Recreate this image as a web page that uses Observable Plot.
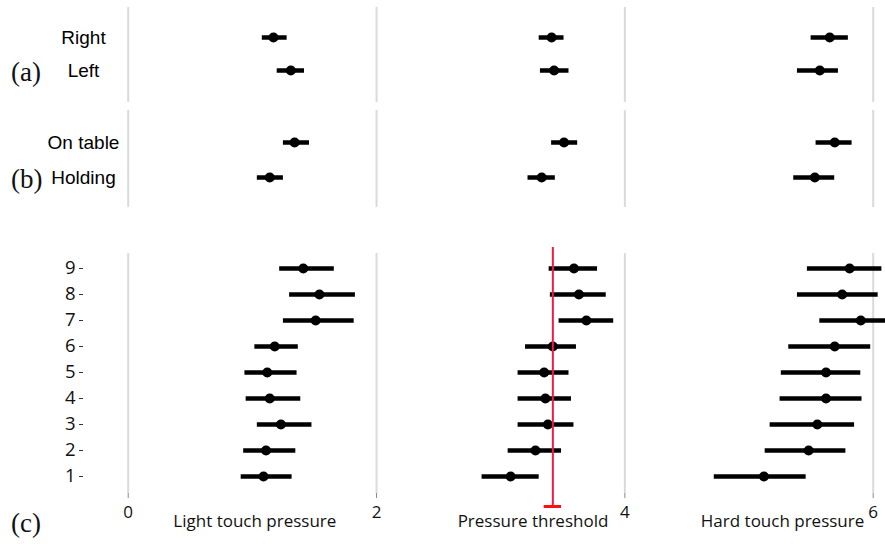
<!DOCTYPE html>
<html>
<head>
<meta charset="utf-8">
<script src="https://cdn.jsdelivr.net/npm/d3@7"></script>
<script src="https://cdn.jsdelivr.net/npm/@observablehq/plot@0.6"></script>
<style>
  html, body { margin: 0; padding: 0; background: white; }
  #wrap { position: relative; width: 885px; height: 544px; overflow: hidden; background: white; }
  .panel { position: absolute; left: 0; }
  .plabel { position: absolute; left: 11px; font-family: "Liberation Serif", "DejaVu Serif", serif; font-size: 27px; line-height: 1; color: #111; }
</style>
</head>
<body>
<div id="wrap"></div>
<script>
// ---- Data: each entry is [lower, mean, upper] ----
const measures = ["Light touch pressure", "Pressure threshold", "Hard touch pressure"];

const sides = ["Right", "Left"];
const sideLight     = [[1.08, 1.17, 1.28], [1.20, 1.31, 1.42]];
const sideThreshold = [[3.31, 3.41, 3.51], [3.32, 3.43, 3.55]];
const sideHard      = [[5.50, 5.65, 5.80], [5.39, 5.57, 5.72]];

const grips = ["On table", "Holding"];
const gripLight     = [[1.25, 1.34, 1.46], [1.04, 1.14, 1.25]];
const gripThreshold = [[3.41, 3.51, 3.62], [3.22, 3.33, 3.44]];
const gripHard      = [[5.54, 5.69, 5.83], [5.36, 5.53, 5.69]];

const subjects = ["9", "8", "7", "6", "5", "4", "3", "2", "1"];
const subjectLight = [
  [1.22, 1.41, 1.66], [1.30, 1.54, 1.83], [1.25, 1.51, 1.82],
  [1.02, 1.18, 1.37], [0.94, 1.12, 1.36], [0.95, 1.14, 1.39],
  [1.04, 1.23, 1.48], [0.93, 1.11, 1.35], [0.91, 1.09, 1.32]
];
const subjectThreshold = [
  [3.39, 3.59, 3.78], [3.40, 3.63, 3.85], [3.47, 3.69, 3.91],
  [3.20, 3.42, 3.61], [3.14, 3.35, 3.55], [3.14, 3.36, 3.57],
  [3.14, 3.38, 3.59], [3.06, 3.28, 3.49], [2.85, 3.08, 3.31]
];
const subjectHard = [
  [5.47, 5.81, 6.07], [5.39, 5.75, 6.04], [5.57, 5.90, 6.20],
  [5.32, 5.69, 5.98], [5.26, 5.62, 5.90], [5.25, 5.62, 5.91],
  [5.17, 5.55, 5.85], [5.13, 5.48, 5.78], [4.72, 5.12, 5.46]
];

const threshold = [3.42];          // reference threshold (red line)
const thresholdCI = [[3.35, 3.49]]; // red crossbar extent
const xTicks = [0, 2, 4, 6];

// ---- helpers ----
function rows(labels, ...series) {
  const out = [];
  labels.forEach((lab, i) => {
    series.forEach((s, j) => {
      out.push({label: lab, measure: measures[j], lo: s[i][0], mean: s[i][1], hi: s[i][2]});
    });
  });
  return out;
}

const xScale = {domain: [0, 6], range: [127.7, 872.7]};
const grid = Plot.ruleX(xTicks, {stroke: "#dadada", strokeWidth: 2});

function markerMarks(data, barW, r) {
  return [
    Plot.ruleY(data, {y: "label", x1: "lo", x2: "hi", stroke: "black", strokeWidth: barW}),
    Plot.dot(data, {x: "mean", y: "label", r: r, fill: "black", stroke: "none"})
  ];
}

const wrap = document.getElementById("wrap");
function place(el, top) {
  el.classList.add("panel");
  el.style.top = top + "px";
  wrap.appendChild(el);
}

// ---- Panel (a) ----
const dataA = rows(sides, sideLight, sideThreshold, sideHard);
const plotA = Plot.plot({
  width: 885, height: 106,
  marginTop: 7, marginBottom: 4, marginLeft: 83, marginRight: 0,
  style: {background: "transparent", overflow: "visible"},
  x: {...xScale, axis: null},
  y: {type: "point", domain: sides, range: [36.7, 70], padding: 0, label: null},
  marks: [
    grid,
    Plot.axisY({tickSize: 0, tickPadding: 0, textAnchor: "middle", fontSize: 19, label: null,
                fontFamily: "Liberation Sans, Arial, sans-serif", fill: "black"}),
    ...markerMarks(dataA, 4.5, 5)
  ]
});
place(plotA, 0);

// ---- Panel (b) ----
const dataB = rows(grips, gripLight, gripThreshold, gripHard);
const plotB = Plot.plot({
  width: 885, height: 104,
  marginTop: 4, marginBottom: 3, marginLeft: 83, marginRight: 0,
  style: {background: "transparent", overflow: "visible"},
  x: {...xScale, axis: null},
  y: {type: "point", domain: grips, range: [35.7, 71], padding: 0, label: null},
  marks: [
    grid,
    Plot.axisY({tickSize: 0, tickPadding: 0, textAnchor: "middle", fontSize: 19, label: null,
                fontFamily: "Liberation Sans, Arial, sans-serif", fill: "black"}),
    ...markerMarks(dataB, 4.5, 5)
  ]
});
place(plotB, 106);

// ---- Panel (c) ----
const dataC = rows(subjects, subjectLight, subjectThreshold, subjectHard);
const labelX = [1.02, 3.26, 5.27];
const measureLabels = measures.map((m, i) => ({text: m, x: labelX[i]}));
const plotC = Plot.plot({
  width: 885, height: 334,
  marginTop: 43, marginBottom: 51, marginLeft: 83, marginRight: 0,
  style: {background: "transparent", overflow: "hidden", fontFamily: "Open Sans, sans-serif"},
  x: {...xScale, axis: null},
  y: {type: "point", domain: subjects, range: [56, 268], padding: 0, label: null},
  marks: [
    grid,
    Plot.axisX(xTicks, {anchor: "bottom", tickSize: 5, tickPadding: 7, stroke: "#888", label: null,
                        fontSize: 17, fontFamily: "Open Sans, sans-serif", fill: "#111", tickFormat: d => String(d)}),
    Plot.axisY({tickSize: 4, tickPadding: 4, stroke: "#333", fontSize: 18.5, label: null,
                fontFamily: "Open Sans, sans-serif", fill: "#111"}),
    ...markerMarks(dataC, 4.3, 5),
    Plot.ruleX(threshold, {stroke: "#ee1c44", strokeWidth: 2, insetTop: -6, insetBottom: -15}),
    Plot.ruleY(thresholdCI, {y: () => "1", x1: d => d[0], x2: d => d[1], dy: 30,
                             stroke: "#ff1010", strokeWidth: 3}),
    Plot.text(measureLabels, {x: "x", text: "text", frameAnchor: "bottom", dy: 33,
                              fontSize: 17, fontFamily: "Open Sans, sans-serif", fill: "#111"})
  ]
});
place(plotC, 210);

// ---- Panel letters ----
[["(a)", 59], ["(b)", 166], ["(c)", 510]].forEach(([t, top]) => {
  const s = document.createElement("div");
  s.className = "plabel";
  s.textContent = t;
  s.style.top = top + "px";
  wrap.appendChild(s);
});
</script>
</body>
</html>
